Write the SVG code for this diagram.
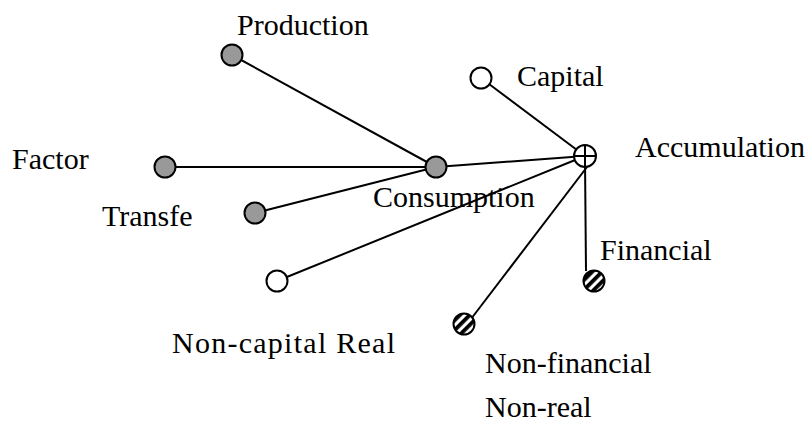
<svg xmlns="http://www.w3.org/2000/svg" width="808" height="424" viewBox="0 0 808 424">
<style>
text{font-family:"Liberation Serif","Times New Roman",serif;font-size:30px;fill:#000}
.edge{stroke:#000;stroke-width:2;fill:none}
.n{stroke:#000;stroke-width:2}
.gray{fill:#999999}
.open{fill:#ffffff}
.hatch{fill:url(#stripes)}
</style>
<defs>
<pattern id="stripes" patternUnits="userSpaceOnUse" width="7" height="7" patternTransform="rotate(45)">
<rect width="7" height="7" fill="#fff"/>
<rect width="3.8" height="7" fill="#000"/>
</pattern>
</defs>
<rect width="808" height="424" fill="#fff"/>
<g id="connectors">
<line class="edge" x1="232" y1="55" x2="436" y2="167"/>
<line class="edge" x1="165" y1="167" x2="436" y2="167"/>
<line class="edge" x1="255" y1="213" x2="436" y2="167"/>
<line class="edge" x1="436" y1="167" x2="585" y2="156"/>
<line class="edge" x1="481" y1="78" x2="585" y2="156"/>
<line class="edge" x1="277" y1="281" x2="585" y2="156"/>
<line class="edge" x1="585" y1="160" x2="586" y2="271"/>
<line class="edge" x1="471" y1="319" x2="587" y2="167"/>
</g>
<g id="node-production"><circle class="n gray" cx="232" cy="55" r="10.5"/><text x="237" y="34.5">Production</text></g>
<g id="node-factor"><circle class="n gray" cx="165" cy="167" r="10.5"/><text x="12" y="169">Factor</text></g>
<g id="node-transfe"><circle class="n gray" cx="255" cy="213" r="10.5"/><text x="102" y="226">Transfe</text></g>
<g id="node-consumption"><circle class="n gray" cx="436" cy="167" r="10.5"/><text x="373" y="206.5">Consumption</text></g>
<g id="node-capital"><circle class="n open" cx="481" cy="78" r="10.5"/><text x="517" y="86">Capital</text></g>
<g id="node-accumulation"><circle class="n open" cx="585" cy="156" r="11"/><line class="edge" x1="574" y1="156" x2="596" y2="156"/><line class="edge" x1="585" y1="145" x2="585" y2="167"/><text x="635" y="157">Accumulation</text></g>
<g id="node-noncapital-real"><circle class="n open" cx="277" cy="281" r="10.5"/><text x="172" y="353" textLength="223">Non-capital Real</text></g>
<g id="node-financial"><circle class="n hatch" cx="594" cy="281" r="10.5"/><text x="600" y="260">Financial</text></g>
<g id="node-nonfinancial"><circle class="n hatch" cx="464" cy="324" r="10.5"/><text x="485" y="373">Non-financial</text></g>
<g id="label-nonreal"><text x="485" y="417">Non-real</text></g>
</svg>
